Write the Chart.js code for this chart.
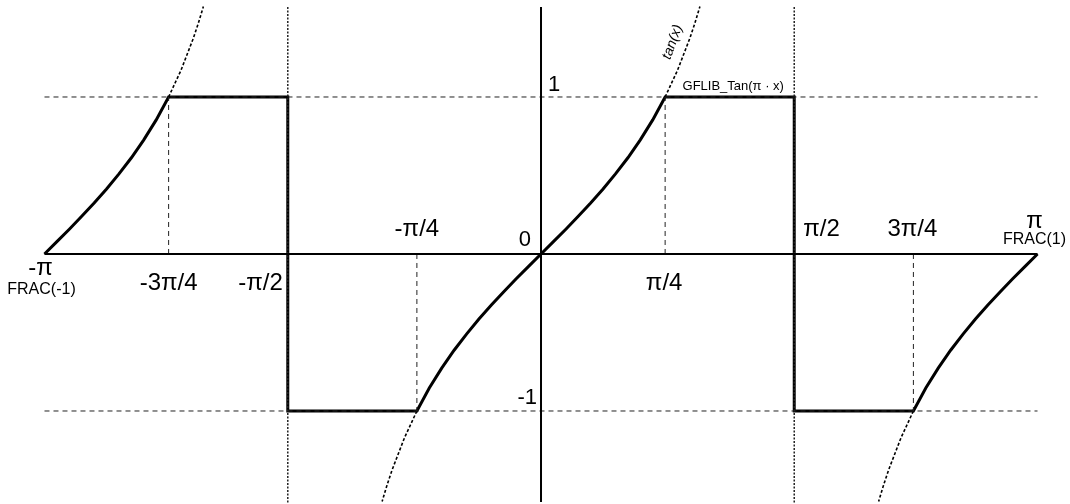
<!DOCTYPE html>
<html><head><meta charset="utf-8">
<script src="https://cdn.jsdelivr.net/npm/chart.js@4"></script>
<style>html,body{margin:0;padding:0;background:#fff}#wrap{width:1070px;height:504px;position:relative}</style>
</head><body><div id="wrap"><canvas id="c"></canvas></div>
<script>
// x values are in units of π; y values are tangent values
const leftX  = [-1, -0.975, -0.95, -0.925, -0.9, -0.875, -0.85, -0.825, -0.8, -0.775, -0.75];
const leftY  = [0, 0.079, 0.158, 0.24, 0.325, 0.414, 0.51, 0.613, 0.727, 0.854, 1];
const midX   = [-0.25, -0.225, -0.2, -0.175, -0.15, -0.125, -0.1, -0.075, -0.05, -0.025, 0,
                0.025, 0.05, 0.075, 0.1, 0.125, 0.15, 0.175, 0.2, 0.225, 0.25];
const midY   = [-1, -0.854, -0.727, -0.613, -0.51, -0.414, -0.325, -0.24, -0.158, -0.079, 0,
                0.079, 0.158, 0.24, 0.325, 0.414, 0.51, 0.613, 0.727, 0.854, 1];
const rightX = [0.75, 0.775, 0.8, 0.825, 0.85, 0.875, 0.9, 0.925, 0.95, 0.975, 1];
const rightY = [-1, -0.854, -0.727, -0.613, -0.51, -0.414, -0.325, -0.24, -0.158, -0.079, 0];
const jumpX  = [-0.51, 0.51];
const jumpY  = [1, -1];

// dotted continuation of tan(x) beyond ±1
const extUpMidX   = [0.25, 0.275, 0.3, 0.31, 0.32];
const extUpMidY   = [1, 1.171, 1.376, 1.471, 1.576];
const extDnMidX   = [-0.25, -0.275, -0.3, -0.31, -0.32];
const extDnMidY   = [-1, -1.171, -1.376, -1.471, -1.576];
const extUpLeftX  = [-0.75, -0.725, -0.7, -0.69, -0.68];
const extUpLeftY  = [1, 1.171, 1.376, 1.471, 1.576];
const extDnRightX = [0.75, 0.725, 0.7, 0.69, 0.68];
const extDnRightY = [-1, -1.171, -1.376, -1.471, -1.576];

// guide lines
const levelY   = [1, -1];
const guideX   = [-0.75, 0.25, -0.25, 0.75];
const guideTop = [1, 1, -1, -1];
const axisXRange = [-1, 1];
const axisYRange = [1.573, -1.58];
const dotYRange  = [1.573, -1.59];

// text labels
const tickTexts = ['-π', '-3π/4', '-π/2', '-π/4', '0', 'π/4', 'π/2', '3π/4', 'π'];
const tickVals  = [-1, -0.75, -0.5, -0.25, 0, 0.25, 0.5, 0.75, 1];
const fracTexts = ['FRAC(-1)', 'FRAC(1)'];
const levelTexts = ['1', '-1'];
const curveName = 'GFLIB_Tan(π · x)';
const tanName = 'tan(x)';

const zip = (xs, ys) => xs.map((x, i) => ({x, y: ys[i]}));
const seg = (a, b) => [a, b];

const solidPath = [
  ...zip(leftX, leftY),
  {x: jumpX[0], y: jumpY[0]}, {x: jumpX[0], y: jumpY[1]},
  ...zip(midX, midY),
  {x: jumpX[1], y: jumpY[0]}, {x: jumpX[1], y: jumpY[1]},
  ...zip(rightX, rightY)
];

const base = {showLine: true, pointRadius: 0, borderColor: '#000', fill: false, tension: 0};
const datasets = [];
// axes
datasets.push({...base, data: seg({x: axisXRange[0], y: 0}, {x: axisXRange[1], y: 0}), borderWidth: 2});
datasets.push({...base, data: seg({x: 0, y: axisYRange[0]}, {x: 0, y: axisYRange[1]}), borderWidth: 2});
// dashed level lines
levelY.forEach(v => datasets.push({...base, data: seg({x: axisXRange[0], y: v}, {x: axisXRange[1], y: v}),
  borderWidth: 1, borderColor: '#222', borderDash: [5, 4]}));
// dashed guides
guideX.forEach((gx, i) => datasets.push({...base, data: seg({x: gx, y: 0}, {x: gx, y: guideTop[i]}),
  borderWidth: 1, borderColor: '#222', borderDash: [5, 4]}));
// dotted verticals at ±π/2
jumpX.forEach(jx => datasets.push({...base, data: seg({x: jx, y: dotYRange[0]}, {x: jx, y: dotYRange[1]}),
  borderWidth: 1.5, borderColor: '#222', borderDash: [2, 1.5]}));
// dotted tan continuation
[[extUpMidX, extUpMidY], [extDnMidX, extDnMidY], [extUpLeftX, extUpLeftY], [extDnRightX, extDnRightY]]
  .forEach(([xs, ys]) => datasets.push({...base, data: zip(xs, ys), borderWidth: 1.6, borderDash: [3, 2]}));
// GFLIB_Tan solid
datasets.push({...base, data: solidPath, borderWidth: 3, borderJoinStyle: 'miter'});

const labelPlugin = {
  id: 'labels',
  afterDatasetsDraw(chart) {
    const ctx = chart.ctx, sx = chart.scales.x, sy = chart.scales.y;
    const X = v => sx.getPixelForValue(v), Y = v => sy.getPixelForValue(v);
    const y0 = Y(0);
    ctx.save();
    ctx.fillStyle = '#000';
    ctx.textBaseline = 'alphabetic';
    const big = '24px "Liberation Sans", Arial, sans-serif';
    const mid = '22px "Liberation Sans", Arial, sans-serif';
    const small = '16px "Liberation Sans", Arial, sans-serif';
    const put = (t, x, y, align, font) => { ctx.font = font; ctx.textAlign = align; ctx.fillText(t, x, y); };
    // [text index] -> placement
    put(tickTexts[0], X(tickVals[0]) - 4, y0 + 21, 'center', big);
    put(fracTexts[0], X(tickVals[0]) - 3, y0 + 40, 'center', small);
    put(tickTexts[1], X(tickVals[1]), y0 + 36, 'center', big);
    put(tickTexts[2], X(-0.51) - 5, y0 + 36, 'right', big);
    put(tickTexts[3], X(tickVals[3]), y0 - 18, 'center', big);
    put(tickTexts[4], X(tickVals[4]) - 10, y0 - 8, 'right', mid);
    put(tickTexts[5], X(tickVals[5]) - 1, y0 + 36, 'center', big);
    put(tickTexts[6], X(0.51) + 9, y0 - 18, 'left', big);
    put(tickTexts[7], X(tickVals[7]) - 1, y0 - 18, 'center', big);
    put(tickTexts[8], X(tickVals[8]) - 3, y0 - 26, 'center', big);
    put(fracTexts[1], X(tickVals[8]) - 3, y0 - 10, 'center', small);
    put(levelTexts[0], X(0) + 7, Y(1) - 6, 'left', mid);
    put(levelTexts[1], X(0) - 4, Y(-1) - 7, 'right', mid);
    put(curveName, X(0.285), Y(1) - 7, 'left', '13px "Liberation Sans", Arial, sans-serif');
    // rotated tan(x)
    ctx.save();
    ctx.translate(X(0.265), Y(1.35));
    ctx.rotate(-70 * Math.PI / 180);
    ctx.font = 'italic 14px "Liberation Sans", Arial, sans-serif';
    ctx.textAlign = 'center';
    ctx.textBaseline = 'middle';
    ctx.fillText(tanName, 0, 0);
    ctx.restore();
    ctx.restore();
  }
};

new Chart(document.getElementById('c'), {
  type: 'scatter',
  data: {datasets},
  options: {
    responsive: true,
    maintainAspectRatio: false,
    animation: false,
    events: [],
    layout: {padding: 0},
    plugins: {legend: {display: false}, tooltip: {enabled: false}},
    scales: {
      x: {type: 'linear', display: false, min: -1.0896, max: 1.0654},
      y: {type: 'linear', display: false, min: -1.5924, max: 1.6178}
    }
  },
  plugins: [labelPlugin]
});
</script>
</body></html>
